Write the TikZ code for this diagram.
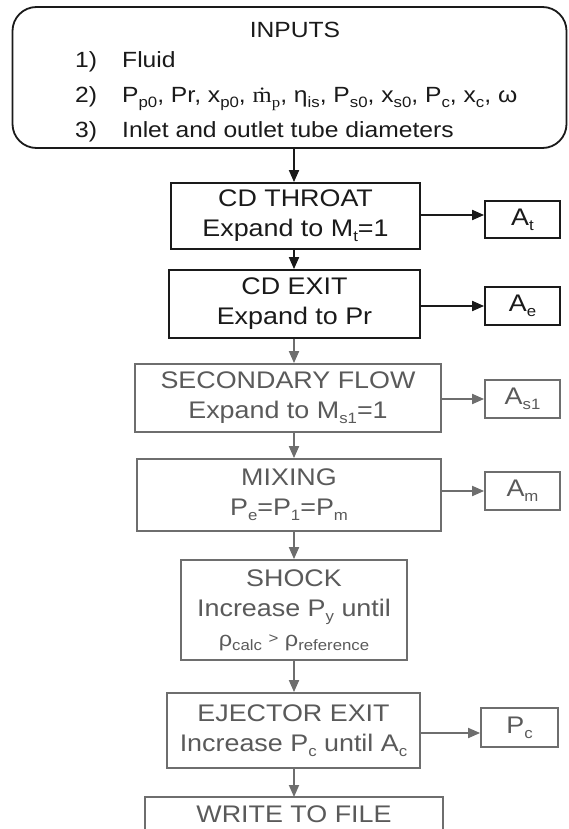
\documentclass[tikz,border=0pt]{standalone}
\usepackage{fontspec}
\setmainfont[FakeStretch=1.12]{Liberation Sans}
\newfontfamily\serifm[FakeStretch=1.12]{Liberation Serif}
\usetikzlibrary{arrows.meta}
\definecolor{ink}{HTML}{1A1A1A}
\definecolor{grayink}{HTML}{6E6E6E}
\definecolor{graytext}{HTML}{5A5A5A}
\newcommand{\sbs}[1]{\raisebox{-0.22em}{\fontsize{15}{15}\selectfont #1}}
\begin{document}
\begin{tikzpicture}[x=1pt,y=-1pt,
  box/.style={draw=ink, line width=1.8pt, rectangle, inner sep=0pt, align=center,
    font=\fontsize{24}{30}\selectfont, text=ink},
  gbox/.style={box, draw=grayink, text=graytext},
  txt/.style={inner sep=0pt, font=\fontsize{22}{28}\selectfont, text=ink},
  arr/.style={draw=ink, line width=1.8pt, -{Triangle[length=12pt,width=10pt]}},
  garr/.style={arr, draw=grayink}]
\useasboundingbox (0,0) rectangle (568,829);
\clip (0,0) rectangle (568,829);
\fill[white] (0,0) rectangle (568,829);
% inputs
\node[box, rounded corners=24pt, minimum width=554pt, minimum height=141pt] (inp) at (289.5,77.5) {};
\node[txt, anchor=base] (tin) at (295,38) {INPUTS};
\node[txt, anchor=base west] (n1) at (75,68) {1)};
\node[txt, anchor=base west] (l1) at (122,68) {Fluid};
\node[txt, anchor=base west] (n2) at (75,103) {2)};
\node[txt, anchor=base west] (l2) at (122,103) {P\sbs{p0}, Pr, x\sbs{p0}, {\serifm ṁ\sbs{p}}, η\sbs{is}, P\sbs{s0}, x\sbs{s0}, P\sbs{c}, x\sbs{c}, ω};
\node[txt, anchor=base west] (n3) at (75,138) {3)};
\node[txt, anchor=base west] (l3) at (122,138) {Inlet and outlet tube diameters};
% main chain
\node[box, minimum width=249pt, minimum height=66pt] (thr) at (295.5,216) {CD THROAT\\Expand to M\sbs{t}=1};
\node[box, minimum width=251pt, minimum height=68pt] (cdx) at (294.5,304) {CD EXIT\\Expand to Pr};
\node[gbox, minimum width=306pt, minimum height=68pt] (sec) at (288,398) {SECONDARY FLOW\\Expand to M\sbs{s1}=1};
\node[gbox, minimum width=304pt, minimum height=72pt] (mix) at (289,495) {MIXING\\P\sbs{e}=P\sbs{1}=P\sbs{m}};
\node[gbox, minimum width=226pt, minimum height=100pt] (shk) at (294,610) {SHOCK\\Increase P\sbs{y} until\\{\fontsize{21}{24}\selectfont ρ\sbs{calc} \raisebox{0.1em}{\fontsize{15}{15}\selectfont >} ρ\sbs{reference}}};
\node[gbox, minimum width=253pt, minimum height=75pt] (ejx) at (293.5,730.5) {EJECTOR EXIT\\Increase P\sbs{c} until A\sbs{c}};
\draw[draw=grayink, line width=1.8pt] (145,840) -- (145,797) -- (443,797) -- (443,840);
\node[txt, text=graytext, font=\fontsize{24}{30}\selectfont, anchor=base] (wtf) at (294,822) {WRITE TO FILE};
\coordinate (wtn) at (294,797);
% side boxes
\node[box, minimum width=75pt, minimum height=37pt] (at) at (522.5,219.5) {A\sbs{t}};
\node[box, minimum width=75pt, minimum height=38pt] (ae) at (522.5,306) {A\sbs{e}};
\node[gbox, minimum width=75pt, minimum height=38pt] (as) at (522.5,399) {A\sbs{s1}};
\node[gbox, minimum width=75pt, minimum height=38pt] (am) at (522.5,491) {A\sbs{m}};
\node[gbox, minimum width=77pt, minimum height=39pt] (pc) at (519.5,727.5) {P\sbs{c}};
% vertical arrows
\coordinate (ax) at (294,0);
\draw[arr] (ax |- inp.south) -- (ax |- thr.north);
\draw[arr] (ax |- thr.south) -- (ax |- cdx.north);
\draw[garr] (ax |- cdx.south) -- (ax |- sec.north);
\draw[garr] (ax |- sec.south) -- (ax |- mix.north);
\draw[garr] (ax |- mix.south) -- (ax |- shk.north);
\draw[garr] (ax |- shk.south) -- (ax |- ejx.north);
\draw[garr] (ax |- ejx.south) -- (wtn);
% horizontal arrows
\draw[arr] (thr.east |- 0,215) -- (at.west |- 0,215);
\draw[arr] (cdx.east |- ae.west) -- (ae.west);
\draw[garr] (sec.east |- as.west) -- (as.west);
\draw[garr] (mix.east |- am.west) -- (am.west);
\draw[garr] (ejx.east |- 0,733) -- (pc.west |- 0,733);
\end{tikzpicture}
\end{document}
